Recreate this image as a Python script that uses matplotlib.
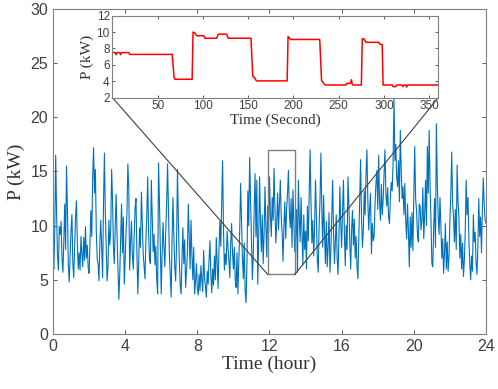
import numpy as np
import matplotlib
matplotlib.use('Agg')
import matplotlib.pyplot as plt

# 24 小時功率 (每 3 分鐘一點, 每列一小時)
power_rows = [
    [6.5, 6.0, 9.8, 16.5, 11.0, 7.2, 5.9, 9.9, 9.2, 10.4, 7.0, 5.7, 8.5, 12.0, 7.8, 15.5, 11.6, 6.4, 4.8, 7.3],
    [9.6, 11.0, 6.5, 5.2, 8.0, 10.8, 12.3, 8.4, 6.0, 7.5, 5.9, 9.0, 7.4, 6.2, 8.9, 6.8, 9.9, 7.0, 8.2, 6.1],
    [5.6, 8.3, 11.4, 9.0, 14.5, 17.2, 13.0, 15.2, 9.5, 7.0, 6.4, 4.9, 8.6, 10.5, 7.8, 5.2, 12.0, 16.7, 11.2, 8.0],
    [4.9, 6.3, 10.5, 8.2, 9.6, 15.2, 12.4, 8.0, 6.5, 10.0, 12.9, 9.1, 6.0, 3.2, 5.5, 8.8, 12.0, 7.5, 10.8, 4.6],
    [6.8, 9.5, 11.2, 15.7, 13.5, 5.9, 8.5, 10.4, 7.2, 6.0, 9.0, 11.6, 12.5, 7.6, 3.7, 6.5, 9.8, 8.0, 13.1, 10.2],
    [7.4, 6.3, 5.1, 8.7, 11.0, 14.5, 9.3, 6.8, 6.5, 14.2, 10.8, 7.6, 9.2, 6.4, 8.1, 5.0, 3.7, 15.8, 12.3, 8.2],
    [3.7, 7.5, 10.3, 8.0, 6.2, 9.5, 12.0, 15.7, 11.5, 7.4, 5.5, 3.4, 8.8, 12.6, 9.0, 6.2, 4.9, 8.5, 15.2, 10.4],
    [6.8, 4.5, 3.7, 7.0, 9.8, 6.5, 8.7, 4.3, 5.8, 7.5, 12.0, 9.0, 6.0, 10.5, 7.4, 5.0, 8.0, 3.7, 4.8, 6.5],
    [4.2, 3.6, 5.5, 4.0, 6.3, 5.0, 3.9, 7.7, 5.2, 4.4, 3.4, 5.8, 4.6, 6.9, 8.6, 5.5, 3.8, 6.0, 4.5, 7.2],
    [5.0, 8.9, 6.5, 4.2, 7.8, 10.4, 8.1, 12.0, 16.0, 9.8, 5.9, 7.4, 6.4, 9.5, 8.0, 6.8, 5.2, 8.3, 10.2, 7.5],
    [6.0, 8.0, 5.0, 4.3, 7.5, 3.7, 6.8, 9.6, 13.9, 10.5, 7.0, 5.1, 8.4, 4.0, 2.9, 6.5, 13.2, 10.0, 16.3, 12.5],
    [8.5, 5.0, 7.2, 11.5, 14.8, 9.0, 14.2, 4.6, 8.8, 14.5, 10.3, 7.6, 11.0, 6.5, 9.2, 13.6, 10.0, 7.1, 11.8, 9.3],
    [14.5, 11.0, 9.0, 12.6, 10.5, 15.3, 12.0, 8.4, 10.2, 13.0, 9.6, 11.8, 14.2, 10.8, 9.4, 6.7, 9.9, 12.2, 8.8, 11.5],
    [13.0, 15.1, 11.2, 9.8, 12.5, 8.0, 13.3, 10.4, 7.6, 9.0, 11.5, 5.7, 14.2, 10.8, 8.5, 12.6, 9.4, 6.4, 11.0, 7.8],
    [9.5, 6.0, 11.8, 8.6, 13.0, 17.0, 12.2, 8.4, 10.5, 7.2, 9.8, 14.2, 11.0, 6.8, 5.7, 10.0, 12.4, 16.7, 11.5, 8.0],
    [12.8, 9.3, 6.5, 10.4, 6.2, 8.0, 11.2, 5.7, 7.6, 10.8, 14.2, 9.5, 6.5, 8.4, 11.0, 7.0, 5.5, 9.0, 13.6, 10.2],
    [8.0, 11.5, 14.2, 9.4, 6.3, 10.0, 7.8, 14.5, 12.0, 8.5, 6.0, 9.6, 11.4, 8.2, 10.6, 7.0, 9.0, 6.2, 5.1, 8.8],
    [12.5, 16.1, 10.8, 8.0, 9.5, 13.2, 11.0, 14.8, 17.0, 12.4, 9.6, 11.5, 13.0, 7.4, 10.2, 8.6, 9.0, 12.0, 13.9, 15.1],
    [11.5, 16.5, 12.2, 10.5, 13.8, 11.0, 12.5, 14.8, 17.0, 13.0, 11.8, 13.5, 10.8, 10.2, 12.6, 14.0, 13.2, 15.8, 21.9, 16.0],
    [17.5, 14.5, 13.6, 16.0, 12.2, 18.8, 15.2, 12.5, 13.6, 11.0, 13.9, 10.4, 8.8, 12.0, 9.5, 6.2, 10.8, 8.0, 11.2, 7.7],
    [13.0, 17.3, 12.5, 11.4, 9.2, 8.5, 12.0, 11.8, 9.6, 10.5, 13.5, 8.8, 11.0, 14.2, 10.0, 17.3, 13.0, 18.8, 13.6, 10.5],
    [6.5, 6.2, 9.8, 12.5, 8.0, 19.4, 14.0, 10.8, 9.2, 12.6, 10.0, 7.0, 8.8, 5.6, 7.5, 10.2, 6.0, 8.5, 5.8, 7.2],
    [10.5, 13.0, 16.8, 12.0, 10.8, 8.5, 11.5, 7.8, 15.6, 12.2, 10.8, 7.0, 9.2, 6.0, 8.4, 5.3, 6.8, 9.5, 14.2, 11.0],
    [12.6, 8.8, 6.5, 5.0, 7.2, 5.8, 11.0, 8.5, 9.4, 6.6, 5.5, 8.0, 12.5, 9.0, 10.8, 7.5, 11.6, 14.4, 12.0, 10.5],
]
power_end = 10.2

# 放大區間 (秒) 的功率
zoom_sec = [0, 3, 4, 5, 8, 9, 10, 18, 19, 66, 68, 69, 88, 89, 91, 93, 101, 102, 115, 117, 126, 128,
            153, 155, 157, 159, 193, 194, 197, 229, 231, 233, 235, 258, 259, 263, 264, 265, 266, 275,
            276, 278, 280, 294, 296, 298, 299, 309, 310, 313, 314, 320, 321, 322, 324, 325, 326, 360]
zoom_kw = [7.5, 7.5, 7.25, 7.5, 7.5, 7.25, 7.5, 7.5, 7.28, 7.28, 4.5, 4.25, 4.25, 10.0, 9.9, 9.55, 9.55, 9.25,
           9.25, 9.75, 9.75, 9.25, 9.25, 4.6, 4.45, 4.05, 4.05, 9.45, 9.1, 9.1, 4.1, 3.8, 3.55, 3.55, 3.75,
           3.75, 4.2, 3.6, 3.55, 3.55, 9.2, 9.15, 8.75, 8.75, 8.5, 8.5, 3.55, 3.55, 3.35, 3.35, 3.55, 3.55,
           3.35, 3.55, 3.55, 3.3, 3.55, 3.55]

# 放大框 (小時, kW)
box_x = [11.9, 13.4]
box_y = [5.5, 17.0]

power = np.append(np.concatenate(power_rows), power_end)
hours = np.linspace(0, 24, len(power))

serif = 'Liberation Serif'
sans = 'Liberation Sans'
gray = '#404040'

fig = plt.figure(figsize=(4.98, 3.89), dpi=100)
ax = fig.add_axes([0.1064, 0.1414, 0.8695, 0.8355])
ax.plot(hours, power, color='#0072BD', linewidth=0.8)
ax.set_xlim(0, 24)
ax.set_ylim(0, 30)
ax.set_xticks(range(0, 25, 4))
ax.set_yticks(range(0, 31, 5))
ax.tick_params(direction='in', top=True, right=True, length=3, width=0.6,
               labelsize=11.5, colors=gray, labelcolor='#404040')
for lab in ax.get_xticklabels() + ax.get_yticklabels():
    lab.set_family(sans)
for s in ax.spines.values():
    s.set_color('#808080')
    s.set_linewidth(0.8)
ax.set_xlabel('Time (hour)', fontsize=14, family=serif, color='#333333', labelpad=1)
ax.set_ylabel('P (kW)', fontsize=14, family=serif, color='#333333', labelpad=4)

# 放大框
ax.plot([box_x[0], box_x[1], box_x[1], box_x[0], box_x[0]],
        [box_y[0], box_y[0], box_y[1], box_y[1], box_y[0]], color='#808080', linewidth=1.0)

# 小圖
ins = fig.add_axes([0.2259, 0.7488, 0.6542, 0.2109])
ins.plot(zoom_sec, zoom_kw, color='#FF0000', linewidth=1.1)
ins.set_xlim(0, 360)
ins.set_ylim(2, 12)
ins.set_xticks(range(50, 351, 50))
ins.set_yticks(range(2, 13, 2))
ins.tick_params(direction='in', top=True, right=True, length=2.5, width=0.6,
                labelsize=8.5, colors=gray, labelcolor='#404040', pad=2)
for lab in ins.get_xticklabels() + ins.get_yticklabels():
    lab.set_family(sans)
for s in ins.spines.values():
    s.set_color('#808080')
    s.set_linewidth(0.8)
ins.set_xlabel('Time (Second)', fontsize=11, family=serif, color='#333333', labelpad=1)
ins.set_ylabel('P (kW)', fontsize=11, family=serif, color='#333333', labelpad=2)

# 連接線: 小圖下緣 -> 放大框下緣
ins_left = ax.transData.inverted().transform(ins.transAxes.transform((0, 0)))
ins_right = ax.transData.inverted().transform(ins.transAxes.transform((1, 0)))
ax.plot([ins_left[0], box_x[0]], [ins_left[1], box_y[0]], color='#404040', linewidth=0.8)
ax.plot([ins_right[0], box_x[1]], [ins_right[1], box_y[0]], color='#404040', linewidth=0.8)

plt.savefig('out.png', dpi=100)
